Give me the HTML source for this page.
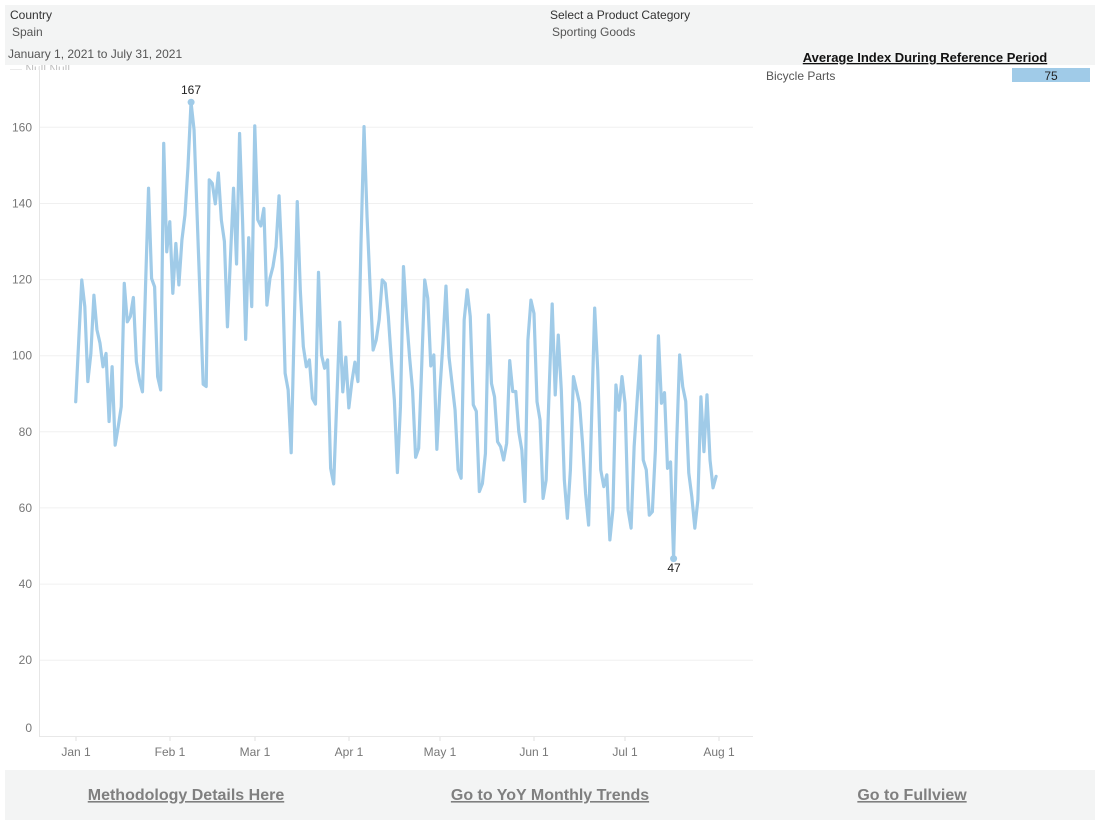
<!DOCTYPE html>
<html><head><meta charset="utf-8">
<style>
html,body{margin:0;padding:0;background:#fff;}
body{width:1100px;height:826px;overflow:hidden;position:relative;font-family:"Liberation Sans",Arial,sans-serif;}
svg{position:absolute;left:0;top:0;}
</style></head>
<body>
<svg width="1100" height="826" viewBox="0 0 1100 826" xmlns="http://www.w3.org/2000/svg" font-family="Liberation Sans, Arial, sans-serif">
  <!-- clipped legend remnants -->
  <g fill="#9a9a9a" font-size="12">
    <text x="10" y="73" opacity="0.6">— Null  Null</text>
  </g>
  <rect x="0" y="70" width="760" height="10" fill="#fff"/>
  <!-- header band -->
  <rect x="5" y="5" width="1090" height="60" fill="#f3f4f4"/>
  <text x="10" y="19" font-size="12" fill="#333">Country</text>
  <text x="12" y="36" font-size="12" fill="#555">Spain</text>
  <text x="8" y="58" font-size="12" fill="#555">January 1, 2021 to July 31, 2021</text>
  <text x="550" y="19" font-size="12" fill="#333">Select a Product Category</text>
  <text x="552" y="36" font-size="12" fill="#555">Sporting Goods</text>
  <text x="925" y="62" font-size="13" font-weight="bold" fill="#111" text-anchor="middle" style="text-decoration:underline">Average Index During Reference Period</text>
  <!-- side table -->
  <text x="766" y="80" font-size="12" fill="#555">Bicycle Parts</text>
  <rect x="1012" y="68" width="78" height="14" fill="#a0cbe8"/>
  <text x="1051" y="80" font-size="12" fill="#222" text-anchor="middle">75</text>

  <!-- gridlines -->
  <g stroke="#f0f0f0" stroke-width="1">
    <line x1="39" y1="660.2" x2="753" y2="660.2"/>
    <line x1="39" y1="584.1" x2="753" y2="584.1"/>
    <line x1="39" y1="507.9" x2="753" y2="507.9"/>
    <line x1="39" y1="431.8" x2="753" y2="431.8"/>
    <line x1="39" y1="355.7" x2="753" y2="355.7"/>
    <line x1="39" y1="279.6" x2="753" y2="279.6"/>
    <line x1="39" y1="203.5" x2="753" y2="203.5"/>
    <line x1="39" y1="127.3" x2="753" y2="127.3"/>
  </g>
  <line x1="39" y1="736.5" x2="753" y2="736.5" stroke="#e8e8e8" stroke-width="1"/>
  <line x1="39.5" y1="66" x2="39.5" y2="737" stroke="#e6e6e6" stroke-width="1"/>
  <!-- x ticks -->
  <g stroke="#e0e0e0" stroke-width="1">
    <line x1="76" y1="737" x2="76" y2="741"/>
    <line x1="170" y1="737" x2="170" y2="741"/>
    <line x1="255" y1="737" x2="255" y2="741"/>
    <line x1="349" y1="737" x2="349" y2="741"/>
    <line x1="440" y1="737" x2="440" y2="741"/>
    <line x1="534" y1="737" x2="534" y2="741"/>
    <line x1="625" y1="737" x2="625" y2="741"/>
    <line x1="719" y1="737" x2="719" y2="741"/>
  </g>
  <!-- y labels -->
  <g font-size="12" fill="#777" text-anchor="end">
    <text x="32" y="131.5">160</text>
    <text x="32" y="207.5">140</text>
    <text x="32" y="283.5">120</text>
    <text x="32" y="359.5">100</text>
    <text x="32" y="436">80</text>
    <text x="32" y="512">60</text>
    <text x="32" y="588">40</text>
    <text x="32" y="664">20</text>
    <text x="32" y="732">0</text>
  </g>
  <!-- x labels -->
  <g font-size="12" fill="#777" text-anchor="middle">
    <text x="76" y="756">Jan 1</text>
    <text x="170" y="756">Feb 1</text>
    <text x="255" y="756">Mar 1</text>
    <text x="349" y="756">Apr 1</text>
    <text x="440" y="756">May 1</text>
    <text x="534" y="756">Jun 1</text>
    <text x="625" y="756">Jul 1</text>
    <text x="719" y="756">Aug 1</text>
  </g>

  <!-- series -->
  <g transform="translate(75.7,736.3) scale(3.035,-3.806)">
    <polyline fill="none" stroke="#a0cbe8" stroke-width="3.2" vector-effect="non-scaling-stroke" stroke-linejoin="round" stroke-linecap="round"
    points="0,87.9 1,104 2,119.9 3,112.9 4,93.2 5,100.6 6,115.9 7,106.8 8,103.3 9,97.1 10,100.6 11,82.7 12,97.1 13,76.5 14,81.3 15,86.6 16,119 17,108.9 18,110.3 19,115.3 20,98.4 21,93.6 22,90.5 23,118 24,144 25,120.3 26,118.1 27,94.5 28,91 29,155.8 30,127.3 31,135.2 32,116.4 33,129.5 34,118.6 35,130.4 36,137 37,149.7 38,166.6 39,159.3 40,137 41,114.8 42,92.5 43,91.9 44,146.2 45,145.3 46,139.9 47,148 48,135.6 49,130 50,107.6 51,126 52,144 53,124.1 54,158.4 55,135 56,104.3 57,131 58,112.9 59,160.4 60,135.7 61,134.1 62,138.7 63,113.3 64,120.3 65,123.4 66,128.6 67,142 68,124.3 69,95.4 70,91 71,74.5 72,107.6 73,140.5 74,117.3 75,102.4 76,97.1 77,98.9 78,88.8 79,87.3 80,121.9 81,100.2 82,96.7 83,98.9 84,70.4 85,66.3 86,87.6 87,108.8 88,90.5 89,99.6 90,86.3 91,93.2 92,98.3 93,93.2 94,129.5 95,160.2 96,136.5 97,118.1 98,101.5 99,104.1 100,109.5 101,119.9 102,119 103,110.4 104,98.8 105,88.3 106,69.3 107,86.6 108,123.4 109,110.2 110,99.7 111,90.9 112,73.3 113,75.7 114,97.1 115,119.9 116,115.1 117,97.3 118,100.2 119,75.4 120,90.9 121,103.3 122,118.3 123,99.7 124,92.7 125,85.7 126,70 127,67.8 128,109.4 129,117.3 130,110.3 131,87.1 132,85.4 133,64.3 134,66.4 135,74.3 136,110.7 137,92.7 138,89.2 139,77.4 140,76.1 141,72.6 142,77 143,98.7 144,90.6 145,90.6 146,80 147,75.2 148,61.7 149,104.1 150,114.6 151,111.1 152,87.9 153,83.1 154,62.5 155,67.3 156,91 157,113.6 158,89.7 159,105.4 160,91 161,67.3 162,57.3 163,70 164,94.5 165,91 166,87.5 167,77 168,63.8 169,55.5 170,84 171,112.5 172,96.3 173,70 174,65.6 175,68.7 176,51.6 177,59.5 178,92.3 179,85.7 180,94.5 181,87.5 182,59.5 183,54.7 184,76.1 185,88.4 186,99.9 187,72.6 188,70 189,58.1 190,59 191,75.2 192,105.2 193,87.5 194,90.3 195,70.4 196,72.1 197,46.7 198,77 199,100.2 200,91.9 201,88 202,69.2 203,63 204,54.7 205,62.1 206,89.2 207,74.8 208,89.7 209,72.6 210,65.3 211,68.3"/>
  </g>
  <circle cx="191.1" cy="102.2" r="3.5" fill="#a0cbe8"/>
  <circle cx="673.6" cy="558.6" r="3.5" fill="#a0cbe8"/>
  <text x="191" y="94" font-size="12" fill="#222" text-anchor="middle">167</text>
  <text x="674" y="572" font-size="12" fill="#222" text-anchor="middle">47</text>

  <!-- footer -->
  <rect x="5" y="770" width="1090" height="50" fill="#f3f4f4"/>
  <g font-size="16" font-weight="bold" fill="#7f7f7f" text-anchor="middle" style="text-decoration:underline">
    <text x="186" y="800">Methodology Details Here</text>
    <text x="550" y="800">Go to YoY Monthly Trends</text>
    <text x="912" y="800">Go to Fullview</text>
  </g>
</svg>
</body></html>
